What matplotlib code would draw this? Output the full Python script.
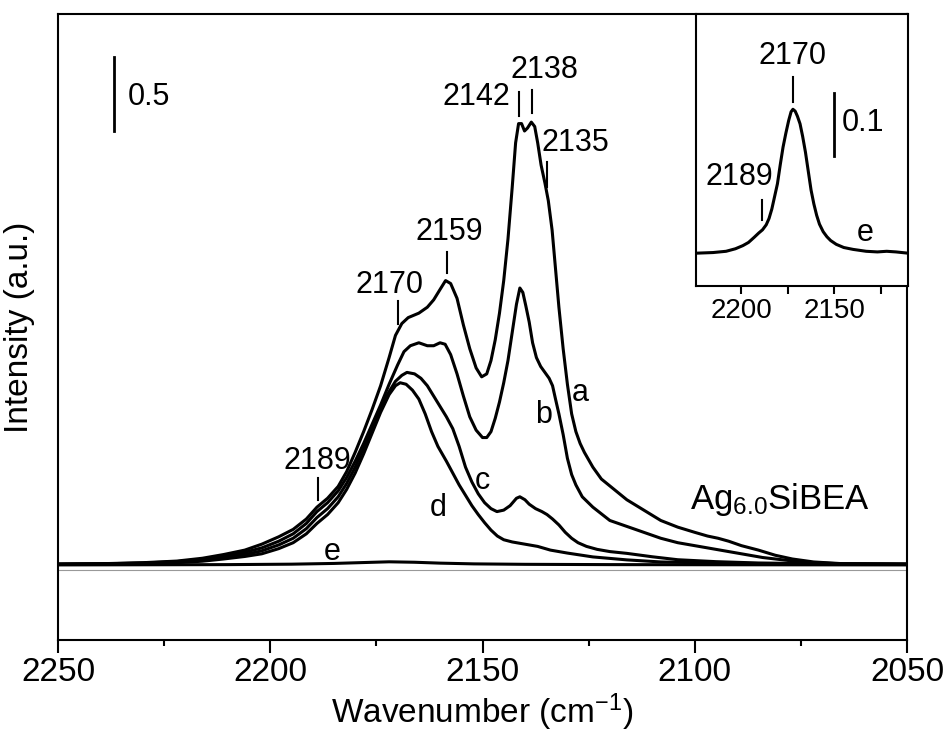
import matplotlib
matplotlib.use("Agg")
import matplotlib.pyplot as plt
from matplotlib.ticker import MultipleLocator

plt.rcParams['font.family'] = ['Liberation Sans', 'DejaVu Sans']
plt.rcParams['mathtext.default'] = 'regular'

# spectra: wavenumber (cm-1) and absorbance
wn_a = [2250, 2240, 2230, 2222, 2216, 2211, 2206, 2202, 2198, 2194.6, 2191.5, 2189, 2186.5, 2184,
        2182, 2180, 2178, 2176, 2174, 2172, 2170.5, 2169, 2167.5, 2165, 2163, 2161.5, 2160,
        2158.7, 2157.5, 2156, 2154.5, 2153, 2151.5, 2150.2, 2149, 2148, 2147, 2146, 2145, 2144,
        2143, 2142.2, 2141.5, 2140.8, 2140.1, 2139.4, 2138.5, 2137.7, 2137, 2136.2, 2135.3,
        2134.5, 2133.6, 2132.8, 2132, 2131, 2130, 2129, 2128, 2127, 2126, 2124, 2122, 2119,
        2116, 2112, 2108, 2104, 2100, 2097, 2094.5, 2092, 2089, 2085, 2081, 2077, 2072, 2065, 2050]
abs_a = [0.005, 0.008, 0.015, 0.026, 0.045, 0.07, 0.10, 0.14, 0.19, 0.24, 0.31, 0.39, 0.45, 0.53,
         0.63, 0.76, 0.90, 1.05, 1.21, 1.40, 1.55, 1.63, 1.67, 1.70, 1.74, 1.79, 1.86,
         1.92, 1.90, 1.80, 1.62, 1.46, 1.33, 1.27, 1.29, 1.38, 1.52, 1.70, 1.92, 2.20,
         2.55, 2.85, 2.98, 2.98, 2.93, 2.95, 2.99, 2.96, 2.85, 2.70, 2.58,
         2.46, 2.26, 2.00, 1.74, 1.46, 1.22, 1.02, 0.90, 0.82, 0.76, 0.66, 0.58, 0.51,
         0.44, 0.37, 0.30, 0.255, 0.22, 0.195, 0.18, 0.16, 0.13, 0.10, 0.065, 0.04, 0.02, 0.008, 0.005]

wn_b = [2250, 2240, 2230, 2222, 2216, 2211, 2206, 2202, 2198, 2194.6, 2191.5, 2189, 2186.5, 2184,
        2182, 2180, 2178, 2176, 2174, 2172, 2170, 2168.5, 2167, 2165, 2163, 2161.5, 2160,
        2158.8, 2157.5, 2156, 2154.5, 2153, 2151.5, 2150, 2149, 2148, 2147, 2146, 2145, 2144,
        2143, 2142, 2141.2, 2140.5, 2139.8, 2139, 2138.2, 2137.3, 2136.3, 2135.3, 2134.3,
        2133.5, 2132.8, 2132, 2131, 2130, 2129, 2128, 2126.5, 2124, 2120, 2116, 2112, 2108,
        2104, 2100, 2096, 2092, 2088, 2084, 2078, 2072, 2065, 2050]
abs_b = [0.005, 0.007, 0.013, 0.022, 0.038, 0.06, 0.085, 0.115, 0.16, 0.21, 0.28, 0.36, 0.42, 0.50,
         0.59, 0.70, 0.82, 0.95, 1.08, 1.22, 1.35, 1.44, 1.48, 1.50, 1.48, 1.48, 1.50,
         1.49, 1.42, 1.29, 1.14, 1.00, 0.91, 0.86, 0.86, 0.90, 0.99, 1.10, 1.23, 1.38,
         1.57, 1.76, 1.87, 1.84, 1.75, 1.64, 1.50, 1.40, 1.34, 1.30, 1.26,
         1.21, 1.12, 1.02, 0.88, 0.72, 0.61, 0.54, 0.46, 0.39, 0.30, 0.26, 0.22, 0.18,
         0.15, 0.13, 0.11, 0.09, 0.07, 0.05, 0.03, 0.015, 0.007, 0.005]

wn_c = [2250, 2240, 2230, 2222, 2216, 2211, 2206, 2202, 2198, 2194.6, 2191.5, 2189, 2186.5, 2184,
        2182, 2180, 2178, 2176, 2174, 2172, 2170.5, 2169, 2167.8, 2166, 2164.5, 2163, 2161.5,
        2160, 2158.5, 2157, 2155.5, 2154, 2152.5, 2151, 2149.5, 2148, 2146.6, 2145, 2143.5,
        2142, 2141.2, 2140, 2139, 2137.5, 2136, 2134.8, 2133.5, 2132, 2130.5, 2129, 2127.5,
        2125.5, 2123, 2120, 2116, 2110, 2104, 2095, 2085, 2070, 2050]
abs_c = [0.005, 0.007, 0.011, 0.019, 0.032, 0.05, 0.07, 0.095, 0.135, 0.18, 0.245, 0.32, 0.38, 0.46,
         0.55, 0.66, 0.79, 0.92, 1.06, 1.17, 1.24, 1.28, 1.30, 1.29, 1.26, 1.21, 1.14,
         1.07, 1.00, 0.92, 0.80, 0.66, 0.56, 0.48, 0.42, 0.38, 0.36, 0.37, 0.40,
         0.45, 0.46, 0.44, 0.41, 0.38, 0.36, 0.34, 0.31, 0.27, 0.22, 0.18, 0.15,
         0.125, 0.105, 0.09, 0.078, 0.055, 0.035, 0.022, 0.013, 0.008, 0.005]

wn_d = [2250, 2240, 2230, 2222, 2216, 2211, 2206, 2202, 2198, 2194.6, 2191.5, 2189, 2186.5, 2184,
        2182, 2180, 2178, 2176, 2174, 2172, 2170.5, 2169.4, 2168, 2166.5, 2165, 2163.5, 2162,
        2160.5, 2158.5, 2157, 2155.5, 2154, 2152.5, 2151, 2149.5, 2148, 2146.5, 2145, 2143,
        2141, 2139, 2137, 2134, 2130, 2124, 2116, 2108, 2095, 2080, 2050]
abs_d = [0.005, 0.006, 0.009, 0.015, 0.025, 0.04, 0.057, 0.075, 0.11, 0.15, 0.21, 0.28, 0.34, 0.42,
         0.51, 0.62, 0.75, 0.89, 1.03, 1.15, 1.21, 1.23, 1.22, 1.18, 1.12, 1.02, 0.90,
         0.80, 0.70, 0.62, 0.54, 0.47, 0.40, 0.34, 0.285, 0.235, 0.195, 0.17, 0.155,
         0.145, 0.135, 0.125, 0.10, 0.08, 0.054, 0.034, 0.02, 0.012, 0.008, 0.005]

wn_e = [2250, 2230, 2210, 2195, 2185, 2178, 2172, 2166, 2160, 2152, 2140, 2120, 2090, 2050]
abs_e = [0.0, 0.001, 0.002, 0.005, 0.01, 0.016, 0.021, 0.018, 0.012, 0.007, 0.004, 0.002, 0.001, 0.0]

# inset: spectrum e on its own scale
wn_e_in = [2224, 2215, 2208, 2203, 2199, 2196, 2193, 2190.5, 2188.5, 2186.5, 2185, 2183.5, 2182,
           2180.5, 2179, 2177.5, 2176, 2174.5, 2173.2, 2172.2, 2171, 2169.8, 2168.4, 2167,
           2165.5, 2164, 2162.5, 2161, 2159.5, 2158, 2156, 2154, 2152, 2149, 2145, 2140, 2133,
           2127, 2122, 2117, 2110.6]
abs_e_in = [0.0, 0.001, 0.003, 0.007, 0.012, 0.017, 0.025, 0.032, 0.037, 0.045, 0.055, 0.07, 0.09,
            0.11, 0.14, 0.168, 0.19, 0.21, 0.224, 0.228, 0.225, 0.217, 0.205, 0.185,
            0.16, 0.13, 0.10, 0.078, 0.06, 0.046, 0.034, 0.026, 0.02, 0.014, 0.009, 0.006, 0.003,
            0.002, 0.003, 0.002, 0.0]

curves = [(wn_a, abs_a), (wn_b, abs_b), (wn_c, abs_c), (wn_d, abs_d), (wn_e, abs_e)]
curve_names = ['a', 'b', 'c', 'd', 'e']

peak_labels = ['2189', '2170', '2159', '2142', '2138', '2135']
inset_labels = ['2170', '2189']

fig = plt.figure(figsize=(9.5, 7.38), dpi=100)
ax = fig.add_axes([58/950, 1-640/738, 849/950, 626/738])

for wn, ab in curves:
    ax.plot(wn, ab, color='black', lw=2.2, solid_joinstyle='round')
ax.axhline(-0.035, color='0.6', lw=0.8)

ax.set_xlim(2250, 2050)
ax.set_ylim(-0.507, 3.72)
ax.xaxis.set_major_locator(MultipleLocator(50))
ax.xaxis.set_minor_locator(MultipleLocator(25))
ax.tick_params(axis='x', which='major', direction='out', length=9, width=1.5, labelsize=24, pad=3)
ax.tick_params(axis='x', which='minor', direction='out', length=4.5, width=1.5)
ax.set_yticks([])
for s in ax.spines.values():
    s.set_linewidth(1.5)

# peak markers: (text, marker x, marker y0, y1, text x, text y)
marks = [(peak_labels[0], 2188.8, 0.44, 0.59, 2188.8, 0.70),
         (peak_labels[1], 2169.9, 1.63, 1.78, 2171.8, 1.89),
         (peak_labels[2], 2158.4, 1.97, 2.11, 2157.9, 2.25),
         (peak_labels[3], 2141.4, 3.03, 3.19, 2151.5, 3.16),
         (peak_labels[4], 2138.3, 3.05, 3.21, 2135.3, 3.34),
         (peak_labels[5], 2134.8, 2.55, 2.72, 2128.2, 2.85)]
for t, mx, y0, y1, tx, ty in marks:
    ax.plot([mx, mx], [y0, y1], color='black', lw=1.5)
    ax.text(tx, ty, t, fontsize=22, ha='center', va='center')

ax.plot([2236.8, 2236.8], [2.93, 3.43], color='black', lw=2)
ax.text(2233.5, 3.16, '0.5', fontsize=22, ha='left', va='center')

label_pos = [(2127.0, 1.16), (2135.7, 1.01), (2150.1, 0.57), (2160.5, 0.385), (2185.5, 0.088)]
for name, (lx, ly) in zip(curve_names, label_pos):
    ax.text(lx, ly, name, fontsize=22, ha='center', va='center')

ax.text(2101.1, 0.44, 'Ag$_{6.0}$SiBEA', fontsize=25, ha='left', va='center')

fig.text(20/950, 1-327/738, 'Intensity (a.u.)', fontsize=24, rotation=90, ha='center', va='center')
fig.text(482/950, 1-712/738, 'Wavenumber (cm$^{-1}$)', fontsize=24, ha='center', va='center')

# inset
ins = fig.add_axes([696/950, 1-286/738, 212/950, 272/738])
ins.plot(wn_e_in, abs_e_in, color='black', lw=2.2, solid_joinstyle='round')
ins.set_xlim(2224.1, 2110.6)
ins.set_ylim(-0.052, 0.379)
ins.xaxis.set_major_locator(MultipleLocator(50))
ins.xaxis.set_minor_locator(MultipleLocator(25))
ins.tick_params(axis='x', which='major', direction='out', length=6, width=1.5, labelsize=20, pad=3)
ins.tick_params(axis='x', which='minor', direction='out', length=6, width=1.5)
ins.set_yticks([])
for s in ins.spines.values():
    s.set_linewidth(1.5)

ins.plot([2172.2, 2172.2], [0.240, 0.279], color='black', lw=1.5)
ins.text(2172.2, 0.313, inset_labels[0], fontsize=22, ha='center', va='center')
ins.plot([2188.8, 2188.8], [0.052, 0.084], color='black', lw=1.5)
ins.text(2201, 0.121, inset_labels[1], fontsize=22, ha='center', va='center')
ins.plot([2150.2, 2150.2], [0.154, 0.254], color='black', lw=2)
ins.text(2146, 0.206, '0.1', fontsize=22, ha='left', va='center')
ins.text(2133.6, 0.032, 'e', fontsize=22, ha='center', va='center')

fig.savefig('out.png', dpi=100)
